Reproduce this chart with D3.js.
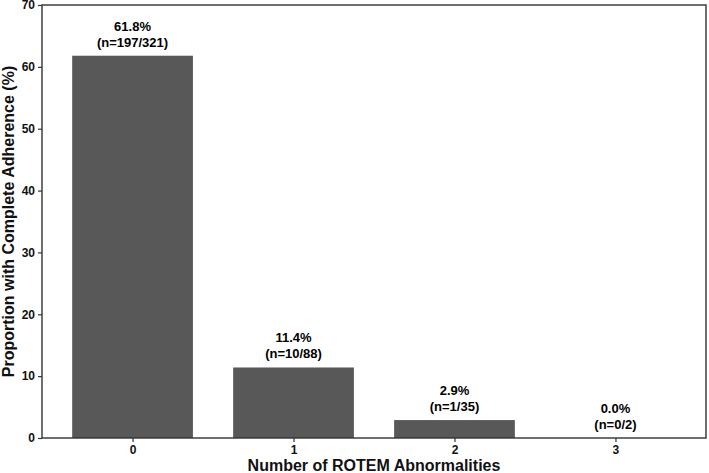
<!DOCTYPE html>
<html><head><meta charset="utf-8">
<script src="https://cdn.jsdelivr.net/npm/d3@7"></script>
<style>
html,body{margin:0;padding:0;background:#fff;}
text{font-family:"Liberation Sans",Arial,Helvetica,sans-serif;font-weight:bold;}
</style></head>
<body>
<svg id="chart" width="709" height="473"></svg>
<script>
const categories = ["0", "1", "2", "3"];
const values = [61.8, 11.4, 2.9, 0.0];
const counts = ["n=197/321", "n=10/88", "n=1/35", "n=0/2"];
const yTicks = [0, 10, 20, 30, 40, 50, 60, 70];
const xLabel = "Number of ROTEM Abnormalities";
const yLabel = "Proportion with Complete Adherence (%)";

const svg = d3.select("#chart");
const m = {left: 42, right: 3, top: 5, bottom: 35};
const W = 709, H = 473;
const pw = W - m.left - m.right, ph = H - m.top - m.bottom;
const g = svg.append("g").attr("transform", `translate(${m.left},${m.top})`);

const x = d3.scaleLinear().domain([-0.5625, 3.5625]).range([0, pw]);
const y = d3.scaleLinear().domain([0, 70]).range([ph, 0]);
const bw = x(0.75) - x(0);

g.selectAll("rect.bar").data(values).enter().append("rect")
  .attr("class", "bar")
  .attr("x", (d, i) => x(i) - bw / 2)
  .attr("y", d => y(d))
  .attr("width", bw)
  .attr("height", d => y(0) - y(d))
  .attr("fill", "#585858");

const lab = g.selectAll("g.lab").data(values).enter().append("g").attr("class", "lab");
lab.append("text")
  .attr("x", (d, i) => x(i))
  .attr("y", d => y(d) - 25)
  .attr("text-anchor", "middle").attr("font-size", 13).attr("fill", "#000")
  .text(d => d.toFixed(1) + "%");
lab.append("text")
  .attr("x", (d, i) => x(i))
  .attr("y", d => y(d) - 9)
  .attr("text-anchor", "middle").attr("font-size", 13).attr("fill", "#000")
  .text((d, i) => "(" + counts[i] + ")");

// axes
const xAxis = d3.axisBottom(x).tickValues(categories.map((c, i) => i)).tickFormat((d, i) => categories[i]).tickSizeOuter(0).tickSize(4).tickPadding(3);
const yAxis = d3.axisLeft(y).tickValues(yTicks).tickSizeOuter(0).tickSize(4).tickPadding(3);

const gx = g.append("g").attr("transform", `translate(0,${ph})`).call(xAxis);
const gy = g.append("g").call(yAxis);
[gx, gy].forEach(a => {
  a.select(".domain").remove();
  a.selectAll(".tick line").attr("stroke", "#333").attr("stroke-width", 1.2);
  a.selectAll(".tick text").attr("font-size", 12).attr("fill", "#111")
    .style("font-family", '"Liberation Sans",Arial,sans-serif').style("font-weight", "bold");
});

g.append("rect").attr("x", 0).attr("y", 0).attr("width", pw).attr("height", ph)
  .attr("fill", "none").attr("stroke", "#333").attr("stroke-width", 1.4);

svg.append("text").attr("x", m.left + pw / 2).attr("y", 470.5)
  .attr("text-anchor", "middle").attr("font-size", 16).attr("fill", "#111").text(xLabel);
svg.append("text").attr("transform", `translate(13.5,${m.top + ph / 2}) rotate(-90)`)
  .attr("text-anchor", "middle").attr("font-size", 16).attr("fill", "#111").text(yLabel);
</script>
</body></html>
